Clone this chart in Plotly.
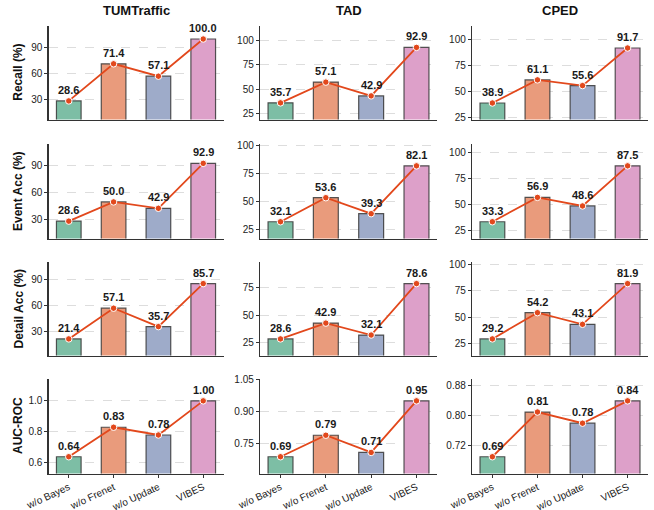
import plotly.graph_objects as go
from plotly.subplots import make_subplots

categories = ["w/o Bayes", "w/o Frenet", "w/o Update", "VIBES"]
datasets = ["TUMTraffic", "TAD", "CPED"]
metrics = ["Recall (%)", "Event Acc (%)", "Detail Acc (%)", "AUC-ROC"]

recall_tum = [28.6, 71.4, 57.1, 100.0]
recall_tad = [35.7, 57.1, 42.9, 92.9]
recall_cped = [38.9, 61.1, 55.6, 91.7]
event_tum = [28.6, 50.0, 42.9, 92.9]
event_tad = [32.1, 53.6, 39.3, 82.1]
event_cped = [33.3, 56.9, 48.6, 87.5]
detail_tum = [21.4, 57.1, 35.7, 85.7]
detail_tad = [28.6, 42.9, 32.1, 78.6]
detail_cped = [29.2, 54.2, 43.1, 81.9]
auc_tum = [0.64, 0.83, 0.78, 1.00]
auc_tad = [0.69, 0.79, 0.71, 0.95]
auc_cped = [0.69, 0.81, 0.78, 0.84]

ticks_recall = [[30, 60, 90], [25, 50, 75, 100], [25, 50, 75, 100]]
ticks_event = [[30, 60, 90], [25, 50, 75, 100], [25, 50, 75, 100]]
ticks_detail = [[30, 60, 90], [25, 50, 75], [25, 50, 75, 100]]
ticks_auc = [[0.6, 0.8, 1.0], [0.75, 0.90, 1.05], [0.72, 0.80, 0.88]]
ticklabels_auc = [["0.6", "0.8", "1.0"], ["0.75", "0.90", "1.05"], ["0.72", "0.80", "0.88"]]

grid_values = [
    [recall_tum, recall_tad, recall_cped],
    [event_tum, event_tad, event_cped],
    [detail_tum, detail_tad, detail_cped],
    [auc_tum, auc_tad, auc_cped],
]
grid_ticks = [ticks_recall, ticks_event, ticks_detail, ticks_auc]

bar_colors = ["#7dbea5", "#e99b7c", "#9eabc9", "#dda0c9"]
line_color = "#E2481C"
FONT = "Liberation Sans, Arial, Helvetica, sans-serif"

W, H = 654, 510
col_px = [(48.5, 223.5), (260.0, 437.0), (472.0, 648.0)]
row_px = [(26.0, 119.5), (143.5, 238.5), (261.5, 355.5), (378.5, 473.5)]


def fx(px):
    return px / W


def fy(py):
    return 1 - py / H


fig = make_subplots(rows=4, cols=3)

annotations = []
for r in range(4):
    for c in range(3):
        idx = r * 3 + c + 1
        sfx = "" if idx == 1 else str(idx)
        vals = grid_values[r][c]
        is_auc = (r == 3)
        fig.add_trace(go.Bar(
            x=categories, y=vals, width=0.55,
            marker=dict(color=bar_colors, line=dict(color="rgba(55,55,55,0.85)", width=1.2)),
            showlegend=False, hoverinfo="skip",
        ), row=r + 1, col=c + 1)
        fig.add_trace(go.Scatter(
            x=categories, y=vals, mode="lines+markers",
            line=dict(color=line_color, width=1.8),
            marker=dict(color=line_color, size=6.5, line=dict(color="white", width=1)),
            showlegend=False, hoverinfo="skip",
        ), row=r + 1, col=c + 1)
        vmin, vmax = min(vals), max(vals)
        rng = vmax - vmin
        cap = 1.15 if is_auc else 115
        lo = vmin - 0.3 * rng
        hi = min(vmax + 0.4 * rng, cap)
        for cat, v in zip(categories, vals):
            annotations.append(dict(
                x=cat, y=v, xref="x" + sfx, yref="y" + sfx,
                text="<b>%s</b>" % (("%.2f" % v) if is_auc else ("%.1f" % v)),
                showarrow=False, yanchor="bottom", yshift=3,
                font=dict(family=FONT, size=11, color="#1a1a1a"),
            ))
        x0, x1 = col_px[c]
        y0, y1 = row_px[r]
        tv = grid_ticks[r][c]
        if is_auc:
            tt = ticklabels_auc[c]
        else:
            tt = [str(t) for t in tv]
        fig.update_layout(**{
            "xaxis" + sfx: dict(
                domain=[fx(x0), fx(x1)], range=[-0.4525, 3.4525],
                showline=True, linecolor="#333333", linewidth=1.2,
                showgrid=False, zeroline=False, automargin=False,
                showticklabels=(r == 3), tickangle=-25,
                ticks="outside" if r == 3 else "", ticklen=3, tickcolor="#333333",
                tickfont=dict(family=FONT, size=10, color="#222222"),
                fixedrange=True,
            ),
            "yaxis" + sfx: dict(
                domain=[fy(y1), fy(y0)], range=[lo, hi],
                showline=True, linecolor="#333333", linewidth=1.2,
                showgrid=True, gridcolor="#d4d4d4", griddash="dash", gridwidth=0.8,
                zeroline=False, tickvals=tv, ticktext=tt, automargin=False,
                ticks="outside", ticklen=3, tickcolor="#333333",
                tickfont=dict(family=FONT, size=10, color="#222222"),
                fixedrange=True,
            ),
        })

for c, name in enumerate(datasets):
    x0, x1 = col_px[c]
    annotations.append(dict(
        x=fx((x0 + x1) / 2), y=fy(10), xref="paper", yref="paper",
        text="<b>%s</b>" % name, showarrow=False, xanchor="center", yanchor="middle",
        font=dict(family=FONT, size=13, color="#111111"),
    ))
for r, name in enumerate(metrics):
    y0, y1 = row_px[r]
    annotations.append(dict(
        x=fx(18), y=fy((y0 + y1) / 2), xref="paper", yref="paper",
        text="<b>%s</b>" % name, showarrow=False, textangle=-90,
        xanchor="center", yanchor="middle",
        font=dict(family=FONT, size=12, color="#111111"),
    ))

fig.update_layout(
    width=W, height=H, margin=dict(l=0, r=0, t=0, b=0, autoexpand=False),
    plot_bgcolor="white", paper_bgcolor="white",
    annotations=annotations, bargap=0, hovermode=False,
)

fig.write_html("out.html", config={"displayModeBar": False, "staticPlot": True},
               post_script="document.body.style.margin='0px';")
